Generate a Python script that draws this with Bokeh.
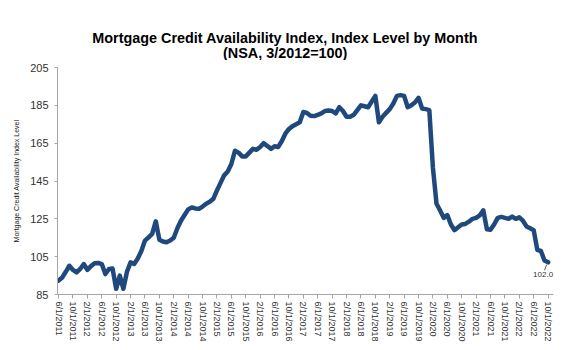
from bokeh.plotting import figure
from bokeh.layouts import column
from bokeh.models import Range1d, FixedTicker, ColumnDataSource
from bokeh.embed import file_html
from bokeh.resources import INLINE
from bokeh.core.properties import value

# Monthly MCAI values, 6/1/2011 .. 10/1/2022
index_values = [
    92.3, 94.0, 97.0, 100.2, 98.0, 96.7, 98.5, 101.1, 98.0, 100.0,
    101.5, 101.7, 101.1, 95.8, 98.5, 98.7, 88.0, 95.0, 88.0, 97.0,
    102.0, 101.1, 104.0, 108.0, 113.5, 115.2, 117.0, 123.7, 114.0, 113.0,
    112.6, 113.5, 115.0, 120.0, 124.0, 127.0, 130.0, 131.0, 130.5, 130.3,
    131.5, 133.0, 134.0, 135.6, 140.0, 144.0, 148.0, 150.0, 154.0, 161.0,
    160.0, 158.0, 158.0, 160.0, 162.0, 161.5, 163.0, 165.0, 163.5, 162.0,
    163.4, 163.0, 166.0, 170.0, 172.5, 174.0, 175.0, 176.0, 181.5, 181.0,
    179.5, 179.3, 180.0, 180.7, 182.0, 182.3, 182.0, 180.7, 184.0, 182.0,
    179.0, 179.0, 180.0, 182.5, 185.0, 184.5, 184.0, 187.0, 190.0, 176.0,
    179.0, 181.0, 183.0, 186.0, 190.0, 190.4, 190.0, 184.0, 185.0, 186.5,
    189.0, 183.3, 183.0, 182.5, 152.0, 133.0, 129.4, 125.5, 127.0, 122.0,
    119.0, 120.5, 122.0, 122.3, 123.5, 125.0, 125.5, 126.8, 129.5, 119.5,
    119.2, 122.0, 125.5, 126.0, 125.5, 125.0, 126.2, 125.0, 125.8, 124.0,
    121.0, 120.0, 119.0, 108.6, 108.0, 103.0, 102.0,
]

month_dates = []
yy, mm = 2011, 6
for _ in index_values:
    month_dates.append(f"{mm}/1/{yy}")
    mm += 1
    if mm > 12:
        mm, yy = 1, yy + 1

month_index = list(range(len(index_values)))

tick_labels = [
    "6/1/2011", "10/1/2011", "2/1/2012", "6/1/2012", "10/1/2012", "2/1/2013",
    "6/1/2013", "10/1/2013", "2/1/2014", "6/1/2014", "10/1/2014", "2/1/2015",
    "6/1/2015", "10/1/2015", "2/1/2016", "6/1/2016", "10/1/2016", "2/1/2017",
    "6/1/2017", "10/1/2017", "2/1/2018", "6/1/2018", "10/1/2018", "2/1/2019",
    "6/1/2019", "10/1/2019", "2/1/2020", "6/1/2020", "10/1/2020", "2/1/2021",
    "6/1/2021", "10/1/2021", "2/1/2022", "6/1/2022", "10/1/2022",
]
tick_pos = [month_dates.index(t) for t in tick_labels]

y_ticks = [85, 105, 125, 145, 165, 185, 205]

title_lines = ["Mortgage Credit Availability Index, Index Level by Month", "(NSA, 3/2012=100)"]
y_axis_title = "Mortgage Credit Availability Index Level"

FONT = "Liberation Sans"
LINE_COLOR = "#1F497D"

# ---- title strip (text only) ----
W, TH = 573, 60
t = figure(width=W, height=TH, output_backend="svg", toolbar_location=None,
           x_range=Range1d(0, W), y_range=Range1d(0, TH),
           x_axis_location=None, y_axis_location=None, min_border=0)
t.outline_line_color = None
t.xgrid.grid_line_color = None
t.ygrid.grid_line_color = None
t.text(x=[263, 263], y=[TH - 37, TH - 52], text=title_lines,
       text_align="center", text_baseline="middle", text_font=value(FONT),
       text_font_size="14.4px", text_font_style="bold", text_color="#000000")

# ---- main chart ----
p = figure(width=W, height=350 - TH, output_backend="svg", toolbar_location=None,
           x_range=Range1d(-0.3, 137.5), y_range=Range1d(85, 205),
           min_border_left=57, min_border_right=20, min_border_top=7, min_border_bottom=56)
p.outline_line_color = None
p.xgrid.grid_line_color = None
p.ygrid.grid_line_color = None

src = ColumnDataSource(dict(x=month_index, y=index_values, date=month_dates))
p.line("x", "y", source=src, line_color=LINE_COLOR, line_width=4.5, line_join="round", line_cap="round")

xa = p.xaxis[0]
xa.ticker = FixedTicker(ticks=tick_pos)
xa.major_label_overrides = {pos: lab for pos, lab in zip(tick_pos, tick_labels)}
xa.major_label_orientation = "vertical"
xa.major_label_text_font = FONT
xa.major_label_text_font_size = "9px"
xa.major_label_text_color = "#333333"
xa.axis_line_color = "#A6A6A6"
xa.major_tick_line_color = "#A6A6A6"
xa.major_tick_out = 4
xa.major_tick_in = 0
xa.minor_tick_line_color = None
xa.major_label_standoff = 3

ya = p.yaxis[0]
ya.ticker = FixedTicker(ticks=y_ticks)
ya.major_label_text_font = FONT
ya.major_label_text_font_size = "11px"
ya.major_label_text_color = "#333333"
ya.axis_line_color = "#A6A6A6"
ya.major_tick_line_color = "#A6A6A6"
ya.major_tick_out = 3
ya.major_tick_in = 0
ya.minor_tick_line_color = None
ya.major_label_standoff = 6
ya.axis_label = y_axis_title
ya.axis_label_text_font = FONT
ya.axis_label_text_font_size = "7px"
ya.axis_label_text_font_style = "normal"
ya.axis_label_text_color = "#222222"
ya.axis_label_standoff = 7

# last value label with leader
x_last, y_last = month_index[-1], index_values[-1]
p.segment(x0=[x_last - 0.4], y0=[y_last - 1.2], x1=[x_last - 1.0], y1=[y_last - 4.2],
          line_color="#595959", line_width=1)
p.text(x=[x_last], y=[y_last], text=[f"{y_last:.1f}"], x_offset=-5, y_offset=12,
       text_align="center", text_baseline="middle", text_font=value(FONT),
       text_font_size="8px", text_color="#333333")

layout = column(t, p, spacing=0)
open("out.html", "w").write(file_html(layout, INLINE))
